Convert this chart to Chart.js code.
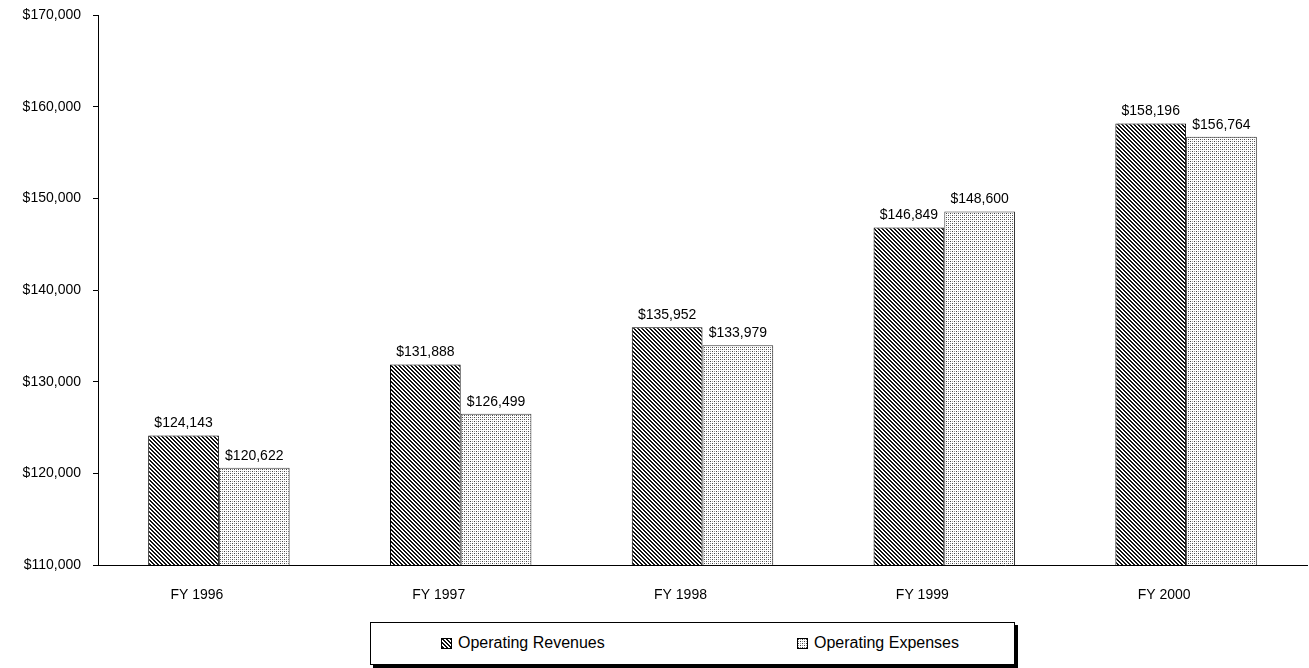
<!DOCTYPE html>
<html>
<head>
<meta charset="utf-8">
<script src="https://cdn.jsdelivr.net/npm/chart.js@4.4.1/dist/chart.umd.min.js"></script>
<style>
  body { margin: 0; background: #fff; font-family: "Liberation Sans", Arial, sans-serif; overflow: hidden; }
  #wrap { position: relative; width: 1309px; height: 668px; overflow: hidden; }
  #chartBox { position: absolute; left: 0; top: -5px; width: 1309px; height: 615px; }
  #legend {
    position: absolute; left: 370px; top: 622px; width: 643px; height: 41px;
    border: 1px solid #000; box-shadow: 3px 3px 0 #000; background: #fff;
    font-size: 16px; color: #000;
  }
  .item { position: absolute; top: 11px; display: flex; align-items: center; }
  .item canvas { border: 1px solid #000; margin-right: 6px; }
</style>
</head>
<body>
<div id="wrap">
  <div id="chartBox"><canvas id="finChart"></canvas></div>
  <div id="legend">
    <div class="item" style="left:70px"><canvas id="sw0" width="9" height="9"></canvas>Operating Revenues</div>
    <div class="item" style="left:426px"><canvas id="sw1" width="9" height="9"></canvas>Operating Expenses</div>
  </div>
</div>
<script>
// data
const years = ["FY 1996", "FY 1997", "FY 1998", "FY 1999", "FY 2000"];
const revenues = [124143, 131888, 135952, 146849, 158196];
const expenses = [120622, 126499, 133979, 148600, 156764];
const seriesNames = ["Operating Revenues", "Operating Expenses"];

// hatch patterns
function hatch() {
    const c = document.createElement("canvas");
    c.width = 4; c.height = 4;
    const g = c.getContext("2d");
    g.fillStyle = "#fff";
    g.fillRect(0, 0, 4, 4);
    g.fillStyle = "#111";
    for (let i = 0; i < 4; i++) {
        g.fillRect(i, i, 1, 1);
        g.fillRect((i + 1) % 4, i, 1, 1);
    }
    return c;
}
function dots() {
    const c = document.createElement("canvas");
    c.width = 4; c.height = 4;
    const g = c.getContext("2d");
    g.fillStyle = "#fff";
    g.fillRect(0, 0, 4, 4);
    g.fillStyle = "#444";
    g.fillRect(0, 0, 1, 1);
    g.fillRect(2, 2, 1, 1);
    g.fillStyle = "#999";
    g.fillRect(2, 0, 1, 1);
    g.fillRect(0, 2, 1, 1);
    return c;
}

const tmp = document.createElement("canvas").getContext("2d");
const revPattern = tmp.createPattern(hatch(), "repeat");
const expPattern = tmp.createPattern(dots(), "repeat");

// legend swatches
[["sw0", hatch()], ["sw1", dots()]].forEach(([id, tile]) => {
    const g = document.getElementById(id).getContext("2d");
    g.fillStyle = g.createPattern(tile, "repeat");
    g.fillRect(0, 0, 9, 9);
});

const fmt = v => "$" + v.toLocaleString("en-US");

// value labels over bars
const valueLabels = {
    id: "valueLabels",
    afterDatasetsDraw(chart) {
        const ctx = chart.ctx;
        ctx.save();
        ctx.font = "14px 'Liberation Sans', Arial, sans-serif";
        ctx.fillStyle = "#000";
        ctx.textAlign = "center";
        ctx.textBaseline = "bottom";
        chart.data.datasets.forEach((ds, i) => {
            chart.getDatasetMeta(i).data.forEach((bar, j) => {
                ctx.fillText(fmt(ds.data[j]), bar.x, bar.y - 5);
            });
        });
        ctx.restore();
    }
};

const ctx = document.getElementById("finChart").getContext("2d");

new Chart(ctx, {
    type: 'bar',
    data: {
        labels: years,
        datasets: [
            {
                label: seriesNames[0],
                data: revenues,
                backgroundColor: revPattern,
                borderColor: '#000',
                borderWidth: 1
            },
            {
                label: seriesNames[1],
                data: expenses,
                backgroundColor: expPattern,
                borderColor: '#333',
                borderWidth: 1
            }
        ]
    },
    options: {
        responsive: true,
        maintainAspectRatio: false,
        animation: false,
        barPercentage: 1,
        categoryPercentage: 0.585,
        layout: { padding: { top: 3, right: 2 } },
        plugins: {
            legend: { display: false },
            tooltip: { enabled: false }
        },
        scales: {
            x: {
                grid: { display: false },
                border: { color: '#000', width: 1 },
                ticks: {
                    color: '#000',
                    font: { family: "'Liberation Sans', Arial, sans-serif", size: 14 },
                    labelOffset: -22,
                    padding: 14
                },
                afterFit(scale) { scale.height = 45; }
            },
            y: {
                min: 110000,
                max: 170000,
                ticks: {
                    stepSize: 10000,
                    color: '#000',
                    font: { family: "'Liberation Sans', Arial, sans-serif", size: 14 },
                    padding: 12,
                    callback: v => fmt(v)
                },
                grid: { drawOnChartArea: false, drawTicks: true, tickLength: 5, color: '#000' },
                border: { color: '#000', width: 1 },
                afterFit(scale) { scale.width = 98; }
            }
        }
    },
    plugins: [valueLabels]
});
</script>
</body>
</html>
